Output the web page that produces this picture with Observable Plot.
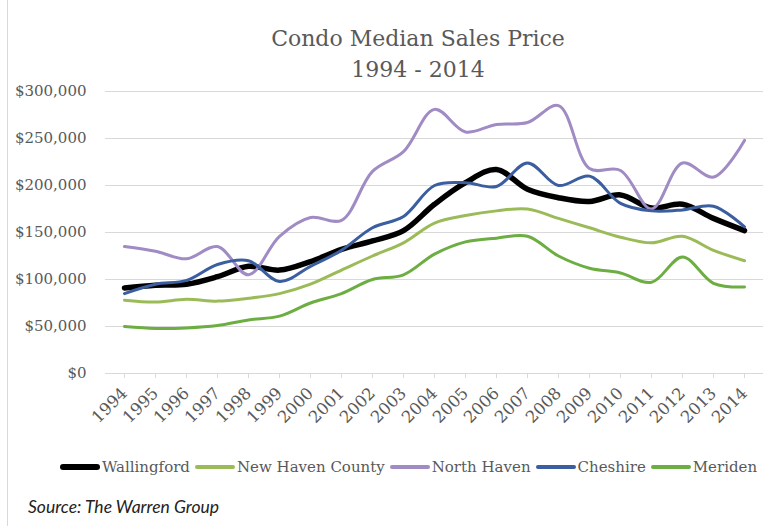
<!DOCTYPE html>
<html><head><meta charset="utf-8">
<script src="https://cdn.jsdelivr.net/npm/d3@7"></script>
<script src="https://cdn.jsdelivr.net/npm/@observablehq/plot@0.6"></script>
<style>
body{margin:0;background:#fff;}
#wrap{position:relative;width:778px;height:526px;overflow:hidden;background:#fff;}
#border{position:absolute;left:7px;top:0;width:1px;height:526px;background:#d9d9d9;}
.t{position:absolute;left:0;width:836px;text-align:center;font-family:"DejaVu Serif";font-size:22px;line-height:26px;color:#595959;white-space:nowrap;}
#chart{position:absolute;left:0;top:85px;}
#legend{position:absolute;left:0;top:455px;width:822px;height:24px;display:flex;justify-content:center;align-items:center;font-family:"DejaVu Serif";font-size:15px;color:#595959;white-space:nowrap;}
.item{display:flex;align-items:center;margin-right:5px;}
.sw{width:40px;border-radius:4px;margin-right:2px;}
#source{position:absolute;left:28px;top:496px;font-family:Lato;font-style:italic;font-size:17.5px;color:#222;white-space:nowrap;}
</style></head>
<body>
<div id="wrap">
  <div id="border"></div>
  <div class="t" style="top:26px">Condo Median Sales Price</div>
  <div class="t" style="top:57px">1994 - 2014</div>
  <div id="chart"></div>
  <div id="legend"></div>
  <div id="source">Source: The Warren Group</div>
</div>
<script>
const years = [1994,1995,1996,1997,1998,1999,2000,2001,2002,2003,2004,2005,2006,2007,2008,2009,2010,2011,2012,2013,2014];
const yTicks = [0,50000,100000,150000,200000,250000,300000];
const seriesNames = ["Wallingford","New Haven County","North Haven","Cheshire","Meriden"];
const wallingford = [91000,94000,95000,103000,114000,110000,119000,132000,141000,152000,180000,203000,217000,196000,187000,183000,190000,176000,180000,165000,152000];
const newHavenCounty = [78000,76000,79000,77000,80000,85000,95000,110000,125000,139000,160000,168000,173000,175000,165000,155000,145000,139000,146000,131000,120000];
const northHaven = [135000,130000,122000,135000,105000,146000,166000,163000,215000,236000,281000,257000,265000,267000,285000,218000,216000,175000,224000,209000,248000];
const cheshire = [85000,95000,99000,116000,120000,98000,114000,131000,155000,167000,200000,203000,199000,224000,200000,210000,181000,173000,174000,178000,156000];
const meriden = [50000,48000,48500,51000,57000,61000,75000,85000,100000,105000,127000,140000,144000,146000,125000,112000,107000,97000,124000,96000,92000];

const seriesValues = [wallingford,newHavenCounty,northHaven,cheshire,meriden];
const colors = ["#000000","#9BBB59","#A08BC4","#3A5E9F","#6CAE42"];
const widths = [5.5,3,3,3,3];

const rows = seriesNames.flatMap((name,si) => years.map((yr,i) => ({series:name, year:String(yr), value:seriesValues[si][i]})));

const plot = Plot.plot({
  width:778, height:370,
  marginTop:6, marginBottom:82, marginLeft:105, marginRight:15,
  style:{fontFamily:"DejaVu Serif", fontSize:"15px", color:"#595959", background:"transparent", overflow:"visible"},
  x:{type:"point", domain:years.map(String), padding:0.5},
  y:{domain:[0,300000]},
  marks:[
    Plot.gridY(yTicks, {stroke:"#d9d9d9", strokeOpacity:1, strokeWidth:1}),
    Plot.axisY(yTicks, {tickSize:0, tickPadding:19, tickFormat:d3.format("$,"), fill:"#595959", fontSize:15, label:null}),
    Plot.axisX({tickSize:5, stroke:"#d9d9d9", strokeOpacity:1, tickRotate:-45, tickPadding:12, fill:"#595959", fontSize:16.5, label:null}),
    ...seriesNames.map((name,si) => Plot.line(rows.filter(r => r.series === name), {x:"year", y:"value", stroke:colors[si], strokeWidth:widths[si], curve:"catmull-rom", strokeLinecap:"round", strokeLinejoin:"round"}))
  ]
});
document.getElementById("chart").appendChild(plot);

const legend = document.getElementById("legend");
seriesNames.forEach((name,si) => {
  const it = document.createElement("div"); it.className = "item";
  const sw = document.createElement("div"); sw.className = "sw";
  sw.style.height = (si === 0 ? 6 : 3.5) + "px";
  sw.style.background = colors[si];
  const tx = document.createElement("span"); tx.textContent = name;
  it.appendChild(sw); it.appendChild(tx);
  legend.appendChild(it);
});
</script>
</body></html>
